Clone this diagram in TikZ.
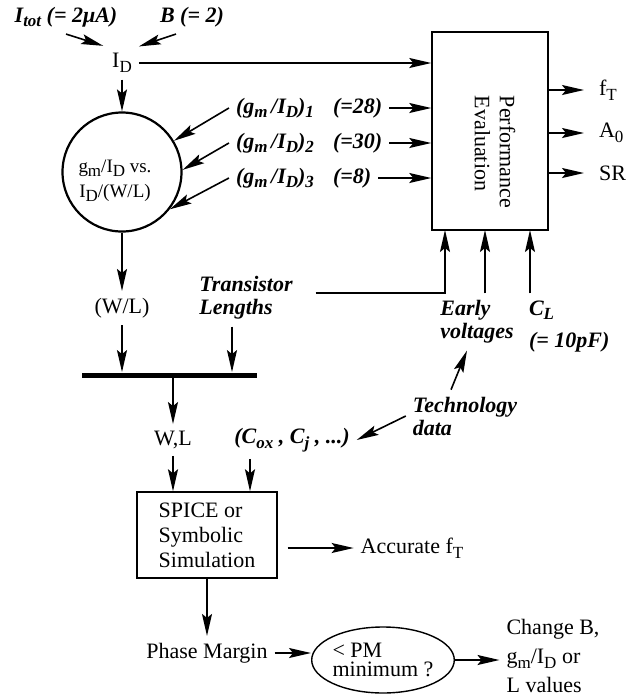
\documentclass[tikz,border=0pt]{standalone}
\usepackage{fontspec}
\setmainfont{Liberation Serif}
\usetikzlibrary{arrows.meta,shapes.geometric}

\newcommand{\sbs}[1]{\raisebox{-0.45ex}{\fontsize{8.5}{8.5}\selectfont#1}}

\begin{document}
\begin{tikzpicture}[
    x=0.5pt, y=-0.5pt,
    font=\fontsize{11}{12.5}\selectfont,
    block/.style={rectangle, draw, line width=0.7pt},
    lbl/.style={font=\fontsize{11}{11.5}\selectfont\bfseries\itshape, align=left},
    arrow/.style={-{Stealth[length=11pt, width=5pt, inset=2pt]}, line width=0.8pt}
]
\useasboundingbox (0,0) rectangle (628,698);

% Inputs
\node[lbl] (itot) at (66,17) {I\sbs{tot} (= 2μA)};
\node[lbl] (bfac) at (192,17) {B (= 2)};
\node (id) at (122,63) {I\sbs{D}};

% gm/ID characteristic
\node[circle, draw, line width=1.1pt, minimum size=59.5pt] (gmid) at (122,172) {};
\node[align=center, font=\fontsize{9.5}{12.5}\selectfont] (gmidtxt) at (115,181) {g\sbs{m}/I\sbs{D} vs.\\I\sbs{D}/(W/L)};
\node[lbl] (gm1) at (275,108) {(g\sbs{m}\,/I\sbs{D})\sbs{1}};
\node[lbl] (gm2) at (275,143) {(g\sbs{m}\,/I\sbs{D})\sbs{2}};
\node[lbl] (gm3) at (275,178) {(g\sbs{m}\,/I\sbs{D})\sbs{3}};
\node[lbl, anchor=west] (val1) at (326,108) {(=28)};
\node[lbl, anchor=west] (val2) at (326,143) {(=30)};
\node[lbl, anchor=west] (val3) at (326,178) {(=8)};

% Performance evaluation
\node[block, minimum width=58pt, minimum height=99pt] (perf) at (490,131) {};
\node[rotate=-90, align=left] (perftxt) at (495,152) {Performance\\Evaluation};
\node[anchor=west] (ft) at (592,90) {f\sbs{T}};
\node[anchor=west] (a0) at (592,133) {A\sbs{0}};
\node[anchor=west] (sr) at (592,173) {SR};
\coordinate (pin1) at (445,230);
\coordinate (pin2) at (485,230);
\coordinate (pin3) at (530,230);

% Technology
\node[lbl] (trans) at (246,298) {Transistor\\Lengths};
\node[lbl] (early) at (477,322) {Early\\voltages};
\node[lbl, anchor=west] (cl) at (522,310) {C\sbs{L}};
\node[lbl, anchor=west] (clval) at (522,342) {(= 10pF)};
\node[lbl] (tech) at (465,416) {Technology\\data};

% Sizing and simulation
\node (wlr) at (122,308) {(W/L)};
\node[fill=black, inner sep=0, minimum width=87.5pt, minimum height=2.5pt] (bar) at (169.5,375) {};
\node (wl) at (173,440) {W,L};
\node[lbl] (cox) at (292,440) {(C\sbs{ox} , C\sbs{j} , ...)};
\node[block, minimum width=70pt, minimum height=43pt, align=left] (spice) at (207,535) {SPICE or\\Symbolic\\Simulation};
\node (acc) at (412,548) {Accurate f\sbs{T}};
\node (pm) at (207,653) {Phase Margin};
\node[ellipse, draw, line width=0.7pt, minimum width=66.5pt, minimum height=33pt, inner sep=0, align=left, font=\fontsize{11}{9.5}\selectfont] (pmmin) at (383,660) {< PM\\minimum ?};
\node[align=left, font=\fontsize{11}{14.5}\selectfont] (chg) at (553,656) {Change B,\\g\sbs{m}/I\sbs{D} or\\L values};

% Arrows
\draw[arrow, shorten >=1pt] (itot.south) -- (id.north west);
\draw[arrow] ([xshift=-8pt]bfac.south) -- (id.north east);
\draw[arrow] (id.east) -- (id.east -| perf.west);
\draw[arrow] (id.south) -- (gmid.north);
\draw[arrow] (gm1.west) -- (gmid.31);
\draw[arrow] (gm2.west) -- (gmid.2);
\draw[arrow] (gm3.west) -- (gmid.-38);
\draw[arrow] (val1.east) -- (val1.east -| perf.west);
\draw[arrow] (val2.east) -- (val2.east -| perf.west);
\draw[arrow] (val3.east) -- (val3.east -| perf.west);
\draw[arrow, shorten >=4pt] (perf.east |- ft.west) -- (ft.west);
\draw[arrow, shorten >=4pt] (perf.east |- a0.west) -- (a0.west);
\draw[arrow, shorten >=4pt] (perf.east |- sr.west) -- (sr.west);
\draw[arrow, shorten <=8pt] ([yshift=2.5pt]trans.east) -| (pin1);
\draw[arrow] (early.north -| pin2) -- (pin2);
\draw[arrow] (cl.north -| pin3) -- (pin3);
\draw[arrow] ([xshift=-7pt]tech.north) -- ([xshift=-5pt]early.south);
\draw[arrow] (tech.west) -- (cox.east);
\draw[arrow] (gmid.south) -- (wlr.north);
\draw[arrow] (wlr.south) -- (wlr.south |- bar.north);
\draw[arrow] ([xshift=-7pt]trans.south) -- ([xshift=-7pt]trans.south |- bar.north);
\draw[arrow] (wl |- bar.south) -- (wl.north);
\draw[arrow] (wl.south) -- (wl.south |- spice.north);
\draw[arrow] ([xshift=-21pt]cox.south) -- ([xshift=-21pt]cox.south |- spice.north);
\draw[arrow, shorten <=5pt] (spice.east |- acc.west) -- (acc.west);
\draw[arrow] (pm.north |- spice.south) -- (pm.north);
\draw[arrow] (pm.east) -- (pm.east -| pmmin.west);
\draw[arrow] (pmmin.east) -- (pmmin.east -| chg.west);

\end{tikzpicture}
\end{document}
